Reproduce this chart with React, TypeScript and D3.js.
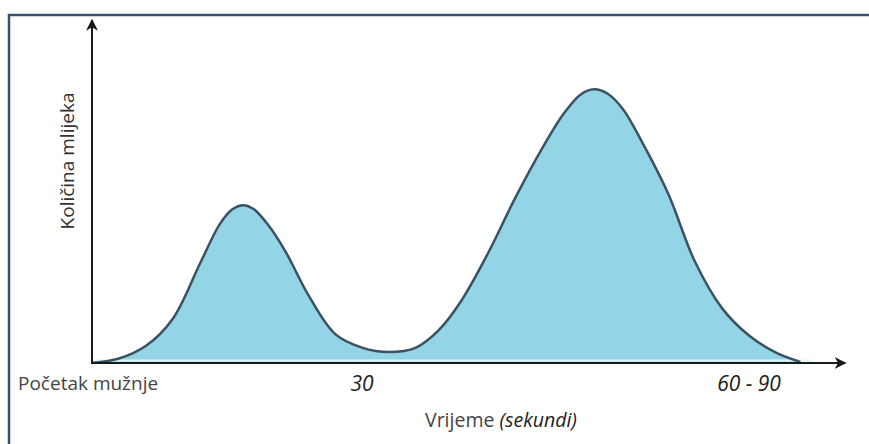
import * as d3 from "d3";

// milking curve (time in s, milk amount in relative units)
const times = [0, 3, 6, 9, 12, 14.2, 15.6, 16.8, 18, 19.5, 21.5, 24, 27, 30, 33, 36, 38.5, 41, 44, 47, 50, 52.5, 54.3, 55.8, 57.3, 59, 61, 64, 67, 70, 73, 76, 78.7];
const amounts = [0, 1.3, 5, 13, 29, 40.5, 44.8, 46, 44.8, 40.5, 32.5, 20, 8.5, 4.5, 3.2, 4.5, 9.5, 18, 32, 48, 62.5, 73, 78.3, 79.8, 78.5, 74, 65, 49.5, 29.5, 16, 8, 3, 0.3];

const tickLabels = [
  { t: 30, label: "30" },
  { t: 73, label: "60 - 90" },
];
const startLabel = "Početak mužnje";
const yTitle = "Količina mlijeka";
const xTitle = "Vrijeme";
const xTitleUnit = "(sekundi)";

const W = 869;
const H = 444;

export default function App() {
  const x = d3.scaleLinear().domain([0, 30]).range([92, 362]);
  const y = d3.scaleLinear().domain([0, 100]).range([363, 20]);

  const pts: [number, number][] = times.map((t, i) => [t, amounts[i]]);

  const area = d3
    .area<[number, number]>()
    .x((d) => x(d[0]))
    .y0(y(0))
    .y1((d) => y(d[1]))
    .curve(d3.curveCatmullRom.alpha(0.5));
  const line = d3
    .line<[number, number]>()
    .x((d) => x(d[0]))
    .y((d) => y(d[1]))
    .curve(d3.curveCatmullRom.alpha(0.5));

  const axisEnd = x(83.7);
  const font = "'Open Sans', 'DejaVu Sans', sans-serif";

  return (
    <svg width={W} height={H} style={{ position: "absolute", left: 0, top: 0 }}>
      <defs>
        <marker id="arr" viewBox="0 0 10 10" refX="9" refY="5" markerWidth="6" markerHeight="6" orient="auto">
          <path d="M0,0 L10,5 L0,10 L3,5 Z" fill="#1a1a1a" />
        </marker>
      </defs>
      <rect x={0} y={0} width={W} height={H} fill="#fff" />
      <rect x={9} y={15} width={W + 20} height={H + 20} fill="none" stroke="#34506e" strokeWidth={2.5} />

      <path d={area(pts) ?? ""} fill="#93d4e7" />
      <line x1={x(0)} x2={x(80)} y1={y(0) - 2.5} y2={y(0) - 2.5} stroke="#e4f5fa" strokeWidth={2} />
      <path d={line(pts) ?? ""} fill="none" stroke="#3a5262" strokeWidth={2.5} />

      <line x1={x(0)} y1={y(0)} x2={x(0)} y2={y(100)} stroke="#1a1a1a" strokeWidth={2} markerEnd="url(#arr)" />
      <line x1={x(0) - 1} y1={y(0)} x2={axisEnd} y2={y(0)} stroke="#1a1a1a" strokeWidth={2} markerEnd="url(#arr)" />

      <text
        transform={`translate(74,161) rotate(-90)`}
        textAnchor="middle"
        fontFamily={font}
        fontSize={19}
        fill="#333"
      >
        {yTitle}
      </text>

      <text x={18} y={390} fontFamily={font} fontSize={19} fill="#444">
        {startLabel}
      </text>
      {tickLabels.map((d) => (
        <text key={d.label} x={x(d.t)} y={391} textAnchor="middle" fontFamily={font} fontSize={21} fontStyle="italic" fill="#222">
          {d.label}
        </text>
      ))}
      <text x={425} y={427} fontFamily={font} fontSize={19.5} fill="#444">
        {xTitle}{" "}
        <tspan fontStyle="italic" fill="#222">{xTitleUnit}</tspan>
      </text>
    </svg>
  );
}
